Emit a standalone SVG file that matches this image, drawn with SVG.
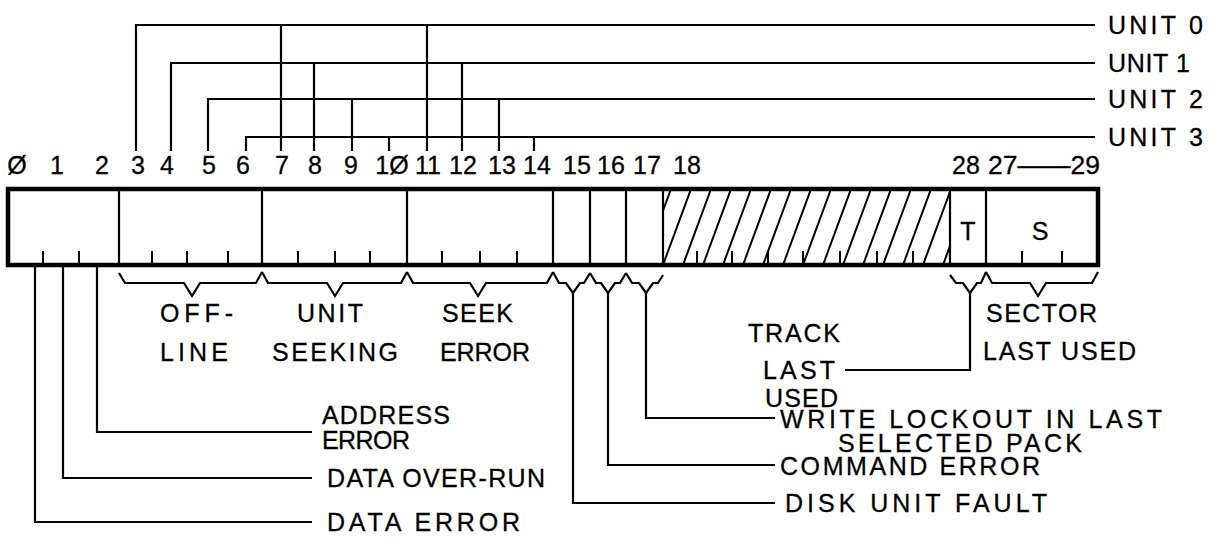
<svg xmlns="http://www.w3.org/2000/svg" width="1215" height="537" viewBox="0 0 1215 537">
<style>
  .ln { fill: none; stroke: #000; stroke-width: 2.2; stroke-linejoin: miter; }
  .box { fill: #fff; stroke: #000; stroke-width: 4.5; }
  .div { stroke: #000; stroke-width: 2.2; }
  .tick { stroke: #000; stroke-width: 2; }
  .hatch { stroke: #000; stroke-width: 2; }
  text { font-family: "Liberation Sans", Arial, sans-serif; font-size: 25px; fill: #000; stroke: #000; stroke-width: 0.3; }
  .num { text-anchor: middle; }
</style>
<defs>
  <clipPath id="hclip"><rect x="663" y="190" width="287" height="75"/></clipPath>
</defs>

<g id="bit-numbers">
  <text class="num" x="17" y="174">Ø</text>
  <text class="num" x="57" y="174">1</text>
  <text class="num" x="102" y="174">2</text>
  <text class="num" x="138" y="174">3</text>
  <text class="num" x="167" y="174">4</text>
  <text class="num" x="209" y="174">5</text>
  <text class="num" x="243" y="174">6</text>
  <text class="num" x="282" y="174">7</text>
  <text class="num" x="315" y="174">8</text>
  <text class="num" x="351" y="174">9</text>
  <text class="num" x="392" y="174">1Ø</text>
  <text class="num" x="428" y="174">11</text>
  <text class="num" x="463" y="174">12</text>
  <text class="num" x="502" y="174">13</text>
  <text class="num" x="537" y="174">14</text>
  <text class="num" x="577" y="174">15</text>
  <text class="num" x="611" y="174">16</text>
  <text class="num" x="647" y="174">17</text>
  <text class="num" x="687" y="174">18</text>
  <text class="num" x="966" y="174">28</text>
  <text x="988" y="174" textLength="112" lengthAdjust="spacingAndGlyphs">27——29</text>
</g>

<g id="register">
  <rect class="box" x="8" y="189" width="1090" height="76"/>
  <g clip-path="url(#hclip)">
    <line class="hatch" x1="643" y1="265" x2="671" y2="189"/>
    <line class="hatch" x1="663" y1="265" x2="691" y2="189"/>
    <line class="hatch" x1="683" y1="265" x2="711" y2="189"/>
    <line class="hatch" x1="703" y1="265" x2="731" y2="189"/>
    <line class="hatch" x1="723" y1="265" x2="751" y2="189"/>
    <line class="hatch" x1="743" y1="265" x2="771" y2="189"/>
    <line class="hatch" x1="763" y1="265" x2="791" y2="189"/>
    <line class="hatch" x1="783" y1="265" x2="811" y2="189"/>
    <line class="hatch" x1="803" y1="265" x2="831" y2="189"/>
    <line class="hatch" x1="823" y1="265" x2="851" y2="189"/>
    <line class="hatch" x1="843" y1="265" x2="871" y2="189"/>
    <line class="hatch" x1="863" y1="265" x2="891" y2="189"/>
    <line class="hatch" x1="883" y1="265" x2="911" y2="189"/>
    <line class="hatch" x1="903" y1="265" x2="931" y2="189"/>
    <line class="hatch" x1="923" y1="265" x2="951" y2="189"/>
    <line class="hatch" x1="943" y1="265" x2="971" y2="189"/>
  </g>
  <g class="div">
    <line x1="119" y1="189" x2="119" y2="265"/>
    <line x1="262" y1="189" x2="262" y2="265"/>
    <line x1="407" y1="189" x2="407" y2="265"/>
    <line x1="553" y1="189" x2="553" y2="265"/>
    <line x1="590" y1="189" x2="590" y2="265"/>
    <line x1="626" y1="189" x2="626" y2="265"/>
    <line x1="663" y1="189" x2="663" y2="265"/>
    <line x1="950" y1="189" x2="950" y2="265"/>
    <line x1="986" y1="189" x2="986" y2="265"/>
  </g>
  <g class="tick">
    <line x1="43" y1="251" x2="43" y2="265"/>
    <line x1="79" y1="251" x2="79" y2="265"/>
    <line x1="152" y1="251" x2="152" y2="265"/>
    <line x1="187" y1="251" x2="187" y2="265"/>
    <line x1="228" y1="251" x2="228" y2="265"/>
    <line x1="298" y1="251" x2="298" y2="265"/>
    <line x1="335" y1="251" x2="335" y2="265"/>
    <line x1="370" y1="251" x2="370" y2="265"/>
    <line x1="442" y1="251" x2="442" y2="265"/>
    <line x1="480" y1="251" x2="480" y2="265"/>
    <line x1="517" y1="251" x2="517" y2="265"/>
    <line x1="697" y1="251" x2="697" y2="265"/>
    <line x1="732" y1="251" x2="732" y2="265"/>
    <line x1="768" y1="251" x2="768" y2="265"/>
    <line x1="803" y1="251" x2="803" y2="265"/>
    <line x1="840" y1="251" x2="840" y2="265"/>
    <line x1="877" y1="251" x2="877" y2="265"/>
    <line x1="913" y1="251" x2="913" y2="265"/>
    <line x1="1022" y1="251" x2="1022" y2="265"/>
    <line x1="1062" y1="251" x2="1062" y2="265"/>
  </g>
  <text class="num" x="968" y="240">T</text>
  <text class="num" x="1040" y="240">S</text>
</g>

<g id="braces" class="ln">
  <path d="M119,273 L125,283 L184,283 L192,296 L200,283 L256,283 L262,272"/>
  <path d="M262,272 L268,283 L327,283 L335,296 L343,283 L401,283 L407,272"/>
  <path d="M407,272 L413,283 L470,283 L478,296 L486,283 L547,283 L553,272"/>
  <path d="M553,272 L559,283 L566,283 L573,293 L580,283 L584,283 L590,273"/>
  <path d="M590,273 L596,283 L601,283 L608,293 L615,283 L620,283 L626,273"/>
  <path d="M626,273 L632,283 L639,283 L646,293 L653,283 L658,283 L663,275"/>
  <path d="M950,275 L956,283 L963,283 L970,293 L977,283 L981,283 L986,272"/>
  <path d="M986,272 L992,283 L1030,283 L1038,296 L1046,283 L1092,283 L1098,272"/>
</g>

<g id="connectors" class="ln">
  <path d="M136,151 L136,25 L1095,25"/>
  <path d="M281,151 L281,25"/>
  <path d="M427,151 L427,25"/>
  <path d="M171,151 L171,63 L1095,63"/>
  <path d="M314,151 L314,63"/>
  <path d="M462,151 L462,63"/>
  <path d="M208,151 L208,99 L1095,99"/>
  <path d="M352,151 L352,99"/>
  <path d="M499,151 L499,99"/>
  <path d="M246,151 L246,137 L1095,137"/>
  <path d="M389,151 L389,137"/>
  <path d="M534,151 L534,137"/>
  <path d="M35,267 L35,522 L312,522"/>
  <path d="M63,267 L63,478 L312,478"/>
  <path d="M97,267 L97,432 L312,432"/>
  <path d="M573,293 L573,503 L775,503"/>
  <path d="M608,293 L608,465 L775,465"/>
  <path d="M646,293 L646,418 L775,418"/>
  <path d="M970,293 L970,370 L845,370"/>
</g>

<g id="unit-labels">
  <text x="1108" y="34" textLength="95" lengthAdjust="spacing">UNIT 0</text>
  <text x="1108" y="72" textLength="82" lengthAdjust="spacing">UNIT 1</text>
  <text x="1108" y="108" textLength="95" lengthAdjust="spacing">UNIT 2</text>
  <text x="1108" y="146" textLength="95" lengthAdjust="spacing">UNIT 3</text>
</g>

<g id="field-labels">
  <text x="160" y="322" textLength="73" lengthAdjust="spacing">OFF-</text>
  <text x="297" y="322" textLength="66" lengthAdjust="spacing">UNIT</text>
  <text x="442" y="322" textLength="71" lengthAdjust="spacing">SEEK</text>
  <text x="160" y="361" textLength="68" lengthAdjust="spacing">LINE</text>
  <text x="272" y="361" textLength="126" lengthAdjust="spacing">SEEKING</text>
  <text x="440" y="361" textLength="90" lengthAdjust="spacing">ERROR</text>
  <text x="986" y="322" textLength="111" lengthAdjust="spacing">SECTOR</text>
  <text x="983" y="360" textLength="153" lengthAdjust="spacing">LAST USED</text>
  <text x="748" y="342" textLength="92" lengthAdjust="spacing">TRACK</text>
  <text x="763" y="379" textLength="72" lengthAdjust="spacing">LAST</text>
  <text x="765" y="407" textLength="73" lengthAdjust="spacing">USED</text>
</g>

<g id="status-labels">
  <text x="322" y="424" textLength="128" lengthAdjust="spacing">ADDRESS</text>
  <text x="322" y="449" textLength="88" lengthAdjust="spacing">ERROR</text>
  <text x="327" y="487" textLength="218" lengthAdjust="spacing">DATA OVER-RUN</text>
  <text x="327" y="531" textLength="193" lengthAdjust="spacing">DATA  ERROR</text>
  <text x="780" y="428" textLength="382" lengthAdjust="spacing">WRITE  LOCKOUT IN LAST</text>
  <text x="838" y="452" textLength="244" lengthAdjust="spacing">SELECTED  PACK</text>
  <text x="780" y="475" textLength="260" lengthAdjust="spacing">COMMAND ERROR</text>
  <text x="785" y="512" textLength="262" lengthAdjust="spacing">DISK UNIT FAULT</text>
</g>
</svg>
